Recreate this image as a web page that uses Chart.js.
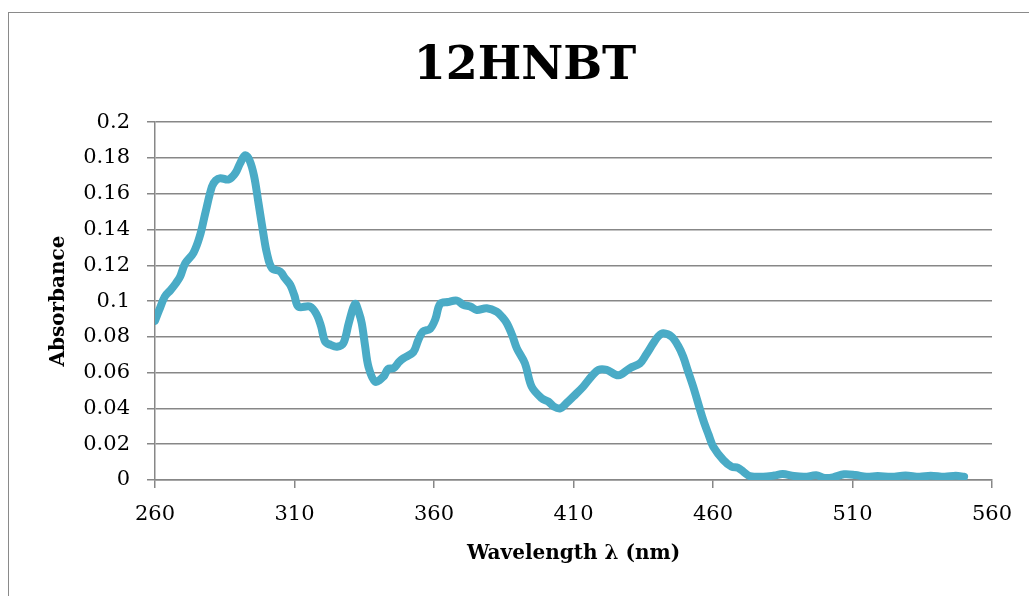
<!DOCTYPE html>
<html>
<head>
<meta charset="utf-8">
<script src="https://cdn.jsdelivr.net/npm/chart.js@4/dist/chart.umd.min.js"></script>
<style>
  html, body { margin: 0; padding: 0; background: #fff; overflow: hidden; }
  #frame { position: absolute; left: 8px; top: 12px; width: 1100px; height: 700px; border: 1.5px solid #8a8a8a; }
  #wrap { position: absolute; left: 0; top: 0; width: 1029px; height: 596px; }
</style>
</head>
<body>
<div id="frame"></div>
<div id="wrap"><canvas id="chart" width="1029" height="596"></canvas></div>
<script>
const wavelengths = [
  260, 261.5, 263.5, 265.5, 267.5, 269, 270.8, 273.8, 276, 278, 280.4, 281.8, 283.4, 286.4, 288.8,
  290.5, 292.3, 293.8, 295.5, 297.1, 298.8, 300.1, 301.9, 304.9, 306.5, 308.5, 310, 311.4, 315.6,
  318, 319.5, 321, 323, 325.2, 327.5, 329.5, 331.7, 333, 334.1, 335.3, 336.5, 338.9, 341.9, 343.5,
  345.5, 347.5, 349, 352.6, 354.3, 356, 358.6, 360.5, 362.2, 365, 368.2, 370.5, 373, 375.3, 378.9,
  382.5, 384.5, 386.1, 388, 389.7, 392.6, 395, 398.6, 401, 403, 405.2, 407.5, 409.9, 413.5, 416.5,
  418.9, 421.9, 426.1, 430.2, 433.8, 436, 438.6, 440.5, 442.2, 445.2, 447.5, 449.3, 451, 452.9,
  456.5, 458.5, 460.1, 463.7, 466.7, 469, 471, 473.2, 478, 482, 485, 489, 493, 497, 500, 503, 507,
  511, 515, 519, 524, 529, 534, 538, 543, 547, 550
];
const absorbance = [
  0.089, 0.095, 0.1025, 0.106, 0.110, 0.1137, 0.121, 0.127, 0.136, 0.149, 0.164, 0.1675, 0.1687, 0.168, 0.1715,
  0.177, 0.1815, 0.179, 0.170, 0.1547, 0.138, 0.1268, 0.1184, 0.1165, 0.113, 0.109, 0.103, 0.0969, 0.0969,
  0.0923, 0.086, 0.0773, 0.0755, 0.0745, 0.0764, 0.088, 0.0985, 0.094, 0.0876, 0.075, 0.0634, 0.055, 0.0578, 0.062,
  0.0625, 0.066, 0.068, 0.0715, 0.078, 0.083, 0.0845, 0.090, 0.0985, 0.0995, 0.1003, 0.0979, 0.097, 0.095, 0.096,
  0.0941, 0.091, 0.0876, 0.081, 0.0736, 0.0652, 0.0522, 0.0457, 0.0438, 0.041, 0.040, 0.043, 0.0466, 0.0522, 0.058,
  0.0615, 0.0615, 0.0585, 0.0625, 0.0652, 0.070, 0.0764, 0.0805, 0.082, 0.0801, 0.075, 0.069, 0.061, 0.0522,
  0.0335, 0.025, 0.0186, 0.0112, 0.0074, 0.0068, 0.0045, 0.0022, 0.0018, 0.0025, 0.0033, 0.0022, 0.0018, 0.0026, 0.0012, 0.0015, 0.0032,
  0.0028, 0.0018, 0.0022, 0.0018, 0.0025, 0.0018, 0.0024, 0.0018, 0.0024, 0.0018
];
const xTickLabels = ['260', '310', '360', '410', '460', '510', '560'];
const yTickLabels = ['0', '0.02', '0.04', '0.06', '0.08', '0.1', '0.12', '0.14', '0.16', '0.18', '0.2'];

const gridColor = '#878787';
const serif = "'DejaVu Serif', 'Liberation Serif', serif";

// the title sits a bit right of the canvas centre, as in the original
const shiftTitle = {
  id: 'shiftTitle',
  afterLayout(chart) {
    if (chart.titleBlock) { chart.titleBlock.left = 58; chart.titleBlock.right = 992; }
  }
};

new Chart(document.getElementById('chart'), {
  type: 'line',
  data: {
    datasets: [{
      label: 'Absorbance',
      data: wavelengths.map((w, i) => ({ x: w, y: absorbance[i] })),
      borderColor: '#4aabc6',
      borderWidth: 8,
      borderCapStyle: 'round',
      borderJoinStyle: 'round',
      pointRadius: 0,
      tension: 0.35,
      fill: false
    }]
  },
  options: {
    responsive: false,
    animation: false,
    layout: { padding: { left: 0, right: 37, top: 0, bottom: 0 } },
    plugins: {
      legend: { display: false },
      tooltip: { enabled: false },
      title: {
        display: true,
        text: '12HNBT',
        color: '#000',
        font: { family: serif, size: 46, weight: 'bold' },
        padding: { top: 39, bottom: 28 }
      }
    },
    scales: {
      x: {
        type: 'linear',
        min: 260, max: 560,
        afterFit: s => { s.height = 116; },
        ticks: {
          stepSize: 50,
          padding: 14,
          color: '#000',
          font: { family: serif, size: 21 },
          maxRotation: 0,
          callback: (v, i) => xTickLabels[i]
        },
        grid: { drawOnChartArea: false, drawTicks: true, tickLength: 8, color: gridColor, lineWidth: 1.5 },
        border: { color: gridColor, width: 1.5 },
        title: {
          display: true,
          text: 'Wavelength λ (nm)',
          color: '#000',
          font: { family: serif, size: 20, weight: 'bold' },
          padding: { top: 0, bottom: 30 }
        }
      },
      y: {
        min: 0, max: 0.2,
        afterFit: s => { s.width = 155; },
        ticks: {
          stepSize: 0.02,
          padding: 17,
          color: '#000',
          font: { family: serif, size: 21 },
          callback: (v, i) => yTickLabels[i]
        },
        grid: { color: gridColor, lineWidth: 1.5, tickLength: 8 },
        border: { color: gridColor, width: 1.5 },
        title: {
          display: true,
          text: 'Absorbance',
          color: '#000',
          font: { family: serif, size: 20, weight: 'bold' },
          padding: { top: 47, bottom: 0 }
        }
      }
    }
  },
  plugins: [shiftTitle]
});
</script>
</body>
</html>
